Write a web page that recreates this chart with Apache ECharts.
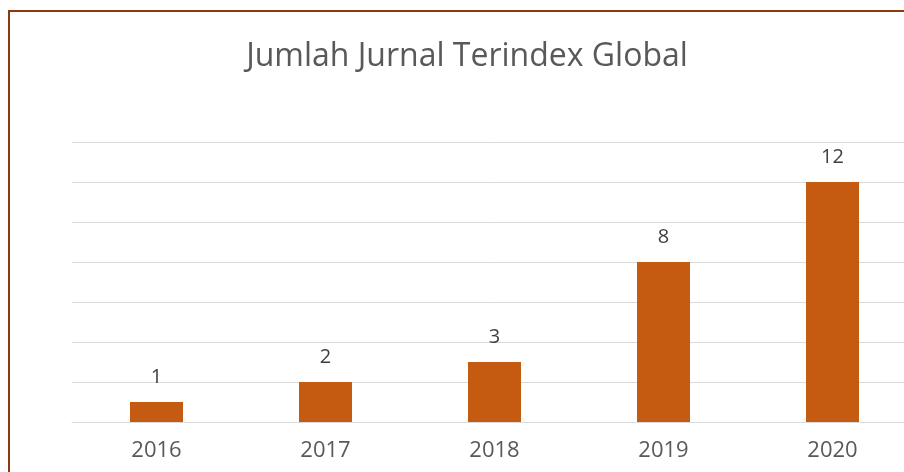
<!DOCTYPE html>
<html><head><meta charset="utf-8">
<script src="https://cdn.jsdelivr.net/npm/echarts@6/dist/echarts.min.js"></script>
<style>
html,body{margin:0;padding:0;background:#fff;}
#wrap{position:relative;width:904px;height:472px;overflow:hidden;}
#ftop{position:absolute;left:8px;top:10px;width:896px;height:2px;background:#8B3A0F;}
#fleft{position:absolute;left:8px;top:10px;width:2px;height:462px;background:#8B3A0F;}
#c{position:absolute;left:0;top:0;width:920px;height:472px;}
</style></head>
<body>
<div id="wrap">
<div id="ftop"></div>
<div id="fleft"></div>
<div id="c"></div>
</div>
<script>
const titleText = 'Jumlah Jurnal Terindex Global';
const categories = ['2016','2017','2018','2019','2020'];
const values = [1, 2, 3, 8, 12];

const chart = echarts.init(document.getElementById('c'));
chart.setOption({
  animation: false,
  title: {
    text: titleText, left: 462, textAlign: 'center', top: 36,
    textStyle: {fontFamily: 'Open Sans', fontSize: 32, fontWeight: 'normal', color: '#595959'}
  },
  grid: {left: 72, right: 3, top: 142, bottom: 50},
  xAxis: {
    type: 'category', data: categories,
    axisLine: {show: true, lineStyle: {color: '#d9d9d9', width: 1}},
    axisTick: {show: false},
    axisLabel: {fontFamily: 'Open Sans', fontSize: 22, color: '#595959', margin: 18}
  },
  yAxis: {
    type: 'value', min: 0, max: 14, interval: 2,
    axisLabel: {show: false}, axisLine: {show: false}, axisTick: {show: false},
    splitLine: {lineStyle: {color: '#d9d9d9', width: 1}}
  },
  series: [{
    type: 'bar', data: values, barWidth: 53,
    itemStyle: {color: '#C55A11'},
    label: {show: true, position: 'top', distance: 15, fontFamily: 'Open Sans', fontSize: 20, color: '#404040'}
  }]
});
</script>
</body></html>
